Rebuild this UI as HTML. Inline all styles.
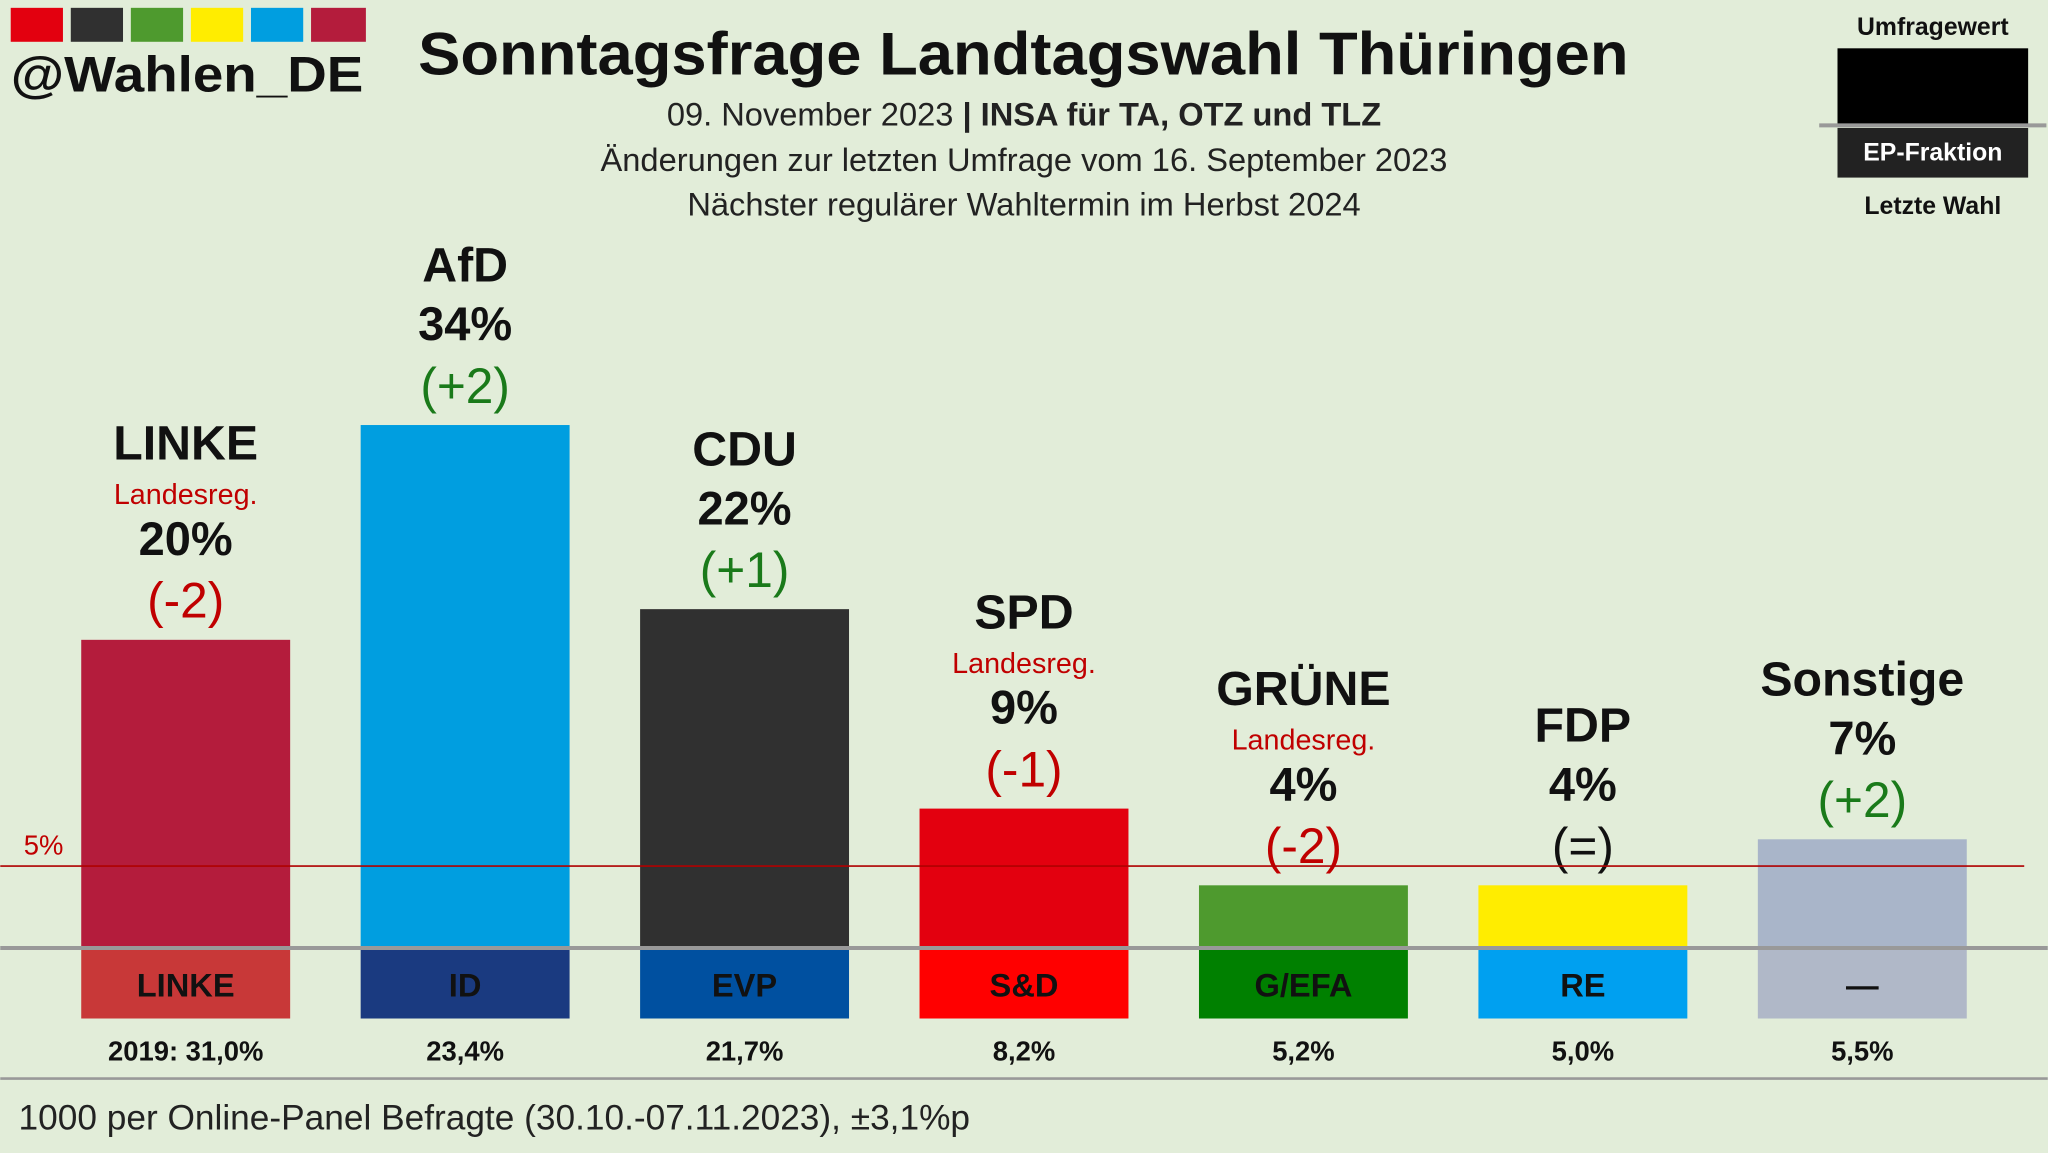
<!DOCTYPE html>
<html><head><meta charset="utf-8"><style>
html,body{margin:0;padding:0;background:#e2edd9;}
svg{display:block;font-family:"Liberation Sans",sans-serif;}
</style></head><body>
<svg width="2048" height="1153" viewBox="0 0 1568 883">
<rect width="1568" height="883" fill="#e2edd9"/>
<g>
<rect x="8" y="6" width="40" height="26" fill="#e3000f"/><rect x="54" y="6" width="40" height="26" fill="#303030"/><rect x="100" y="6" width="40" height="26" fill="#4e9a2e"/><rect x="146" y="6" width="40" height="26" fill="#ffed00"/><rect x="192" y="6" width="40" height="26" fill="#009ee0"/><rect x="238" y="6" width="42" height="26" fill="#b41c3c"/>
<text x="8" y="70" font-size="38" font-weight="bold" fill="#111" textLength="270" lengthAdjust="spacingAndGlyphs">@Wahlen_DE</text></g>
<text x="320" y="57" font-size="46" font-weight="bold" fill="#111" textLength="927" lengthAdjust="spacingAndGlyphs">Sonntagsfrage Landtagswahl Thüringen</text>
<text x="784" y="96" text-anchor="middle" font-size="25" fill="#222">09. November 2023 <tspan font-weight="bold">| INSA für TA, OTZ und TLZ</tspan></text>
<text x="784" y="131" text-anchor="middle" font-size="25" fill="#222">Änderungen zur letzten Umfrage vom 16. September 2023</text>
<text x="784" y="165" text-anchor="middle" font-size="25" fill="#222">Nächster regulärer Wahltermin im Herbst 2024</text>
<g>
<text x="1480" y="27" text-anchor="middle" font-size="19" font-weight="bold" fill="#111">Umfragewert</text>
<rect x="1407" y="37" width="146" height="58" fill="#000"/>
<line x1="1393" y1="96" x2="1567" y2="96" stroke="#999" stroke-width="3"/>
<rect x="1407" y="98" width="146" height="38" fill="#222"/>
<text x="1480" y="123" text-anchor="middle" font-size="19" font-weight="bold" fill="#fff">EP-Fraktion</text>
<text x="1480" y="164" text-anchor="middle" font-size="19" font-weight="bold" fill="#111">Letzte Wahl</text></g>
<g id="bars"></g>
<line x1="0" y1="826" x2="1568" y2="826" stroke="#999" stroke-width="2"/>
<text x="14" y="865" font-size="27" fill="#222">1000 per Online-Panel Befragte (30.10.-07.11.2023), ±3,1%p</text>
</svg>
<script>
const parties=["LINKE","AfD","CDU","SPD","GRÜNE","FDP","Sonstige"];
const values=[20,34,22,9,4,4,7];
const changes=["-2","+2","+1","-1","-2","=","+2"];
const landesreg=[true,false,false,true,true,false,false];
const barColors=["#b41c3c","#009ee0","#303030","#e3000f","#4e9a2e","#ffed00","#a9b5c9"];
const epGroups=["LINKE","ID","EVP","S&D","G/EFA","RE","—"];
const epColors=["#c83838","#1a3a80","#0050a0","#ff0000","#008000","#00a0f0","#b0b8c8"];
const lastVotes=["2019: 31,0%","23,4%","21,7%","8,2%","5,2%","5,0%","5,5%"];
const threshold=5;
const NS="http://www.w3.org/2000/svg";
const base=725, perPct=11.75, x0=142, step=214, bw=160;
const y=v=>base-v*perPct, xc=i=>x0+i*step;
const g=document.getElementById('bars');
function mk(tag,attrs,text){const e=document.createElementNS(NS,tag);for(const k in attrs)e.setAttribute(k,attrs[k]);if(text!=null)e.textContent=text;g.appendChild(e);return e;}
parties.forEach((p,i)=>{
 const top=y(values[i]);
 const r=mk('rect',{x:xc(i)-bw/2,y:top,width:bw,height:base-top,fill:barColors[i]});
 
 
 const col=changes[i].startsWith('+')?'#1a7a1a':changes[i]==='='?'#111':'#c00000';
 const t1=mk('text',{x:xc(i),y:top-17,'text-anchor':'middle','font-size':38,fill:col},'('+changes[i]+')');
 
 
 const t2=mk('text',{x:xc(i),y:top-65,'text-anchor':'middle','font-size':36,'font-weight':'bold',fill:'#111'},values[i]+'%');
 
 
 let ny=top-110;
 if(landesreg[i]){const t=mk('text',{x:xc(i),y:top-104,'text-anchor':'middle','font-size':22,fill:'#c00000'},'Landesreg.');
  
  
  ny=top-138;}
 const t3=mk('text',{x:xc(i),y:ny,'text-anchor':'middle','font-size':37,'font-weight':'bold',fill:'#111'},p);
 
 
 const e=mk('rect',{x:xc(i)-bw/2,y:727,width:bw,height:53,fill:epColors[i]});
 
 
 const et=mk('text',{x:xc(i),y:763,'text-anchor':'middle','font-size':25,'font-weight':'bold',fill:'#111'},epGroups[i]);
 
 
 const lv=mk('text',{x:xc(i),y:812,'text-anchor':'middle','font-size':21,'font-weight':'bold',fill:'#111'},lastVotes[i]);
 
 
});
const tl=mk('line',{x1:0,x2:1550,y1:y(threshold)-3,y2:y(threshold)-3,stroke:'#b00000','stroke-width':1.2});


const tt=mk('text',{x:18,y:y(threshold)-12,'font-size':21,fill:'#c00000'},threshold+'%');


const bl=mk('line',{x1:0,x2:1568,y1:base+1,y2:base+1,stroke:'#999','stroke-width':3});


</script>
</body></html>
